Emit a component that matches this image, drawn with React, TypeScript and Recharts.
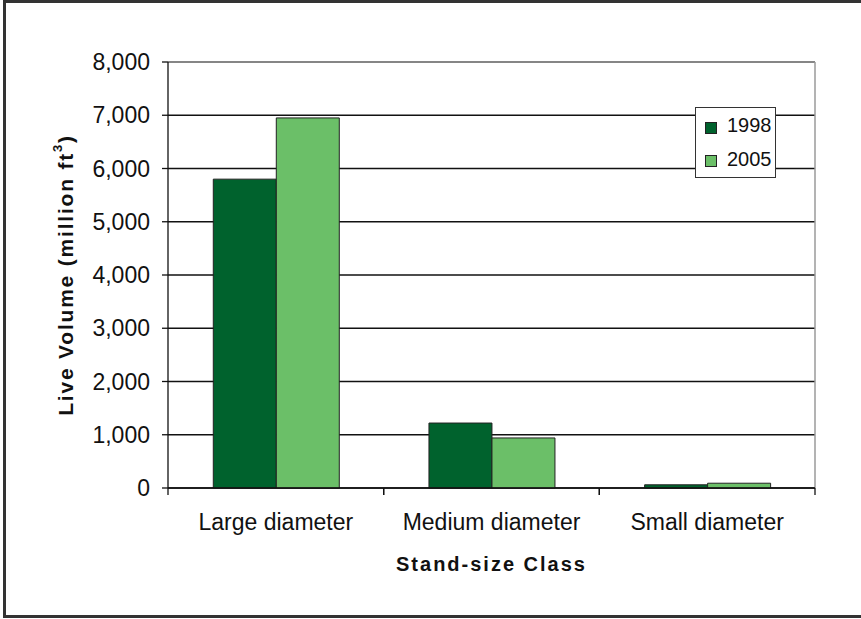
import React from "react";
import {
  BarChart,
  Bar,
  XAxis,
  YAxis,
  CartesianGrid,
  Legend,
  ReferenceLine,
} from "recharts";

const categories = ["Large diameter", "Medium diameter", "Small diameter"];
const volume1998 = [5800, 1220, 60];
const volume2005 = [6950, 940, 90];
const yTicks = [0, 1000, 2000, 3000, 4000, 5000, 6000, 7000, 8000];

const FONT = '"Liberation Sans", Arial, sans-serif';
const DARK = "#00622d";
const LIGHT = "#6bbf68";
const TICK_MARGIN = 26;

const data = categories.map((category, i) => ({
  category,
  v1998: volume1998[i],
  v2005: volume2005[i],
}));

// category label plus the tick marks on both band edges (Excel style)
function CategoryTick(props: any) {
  const { x, y, payload } = props;
  const half = payload.offset || 0;
  const axisY = y - TICK_MARGIN;
  return (
    <g>
      <line x1={x - half} x2={x - half} y1={axisY} y2={axisY + 7} stroke="#111" strokeWidth={1.3} />
      <line x1={x + half} x2={x + half} y1={axisY} y2={axisY + 7} stroke="#111" strokeWidth={1.3} />
      <text
        x={x}
        y={y}
        dy="0.71em"
        textAnchor="middle"
        fontFamily={FONT}
        fontSize={23}
        fill="#111"
      >
        {payload.value}
      </text>
    </g>
  );
}

function YLabel(props: any) {
  const vb = props.viewBox || { x: 88, y: 62, width: 80, height: 426 };
  const cx = vb.x - 23;
  const cy = vb.y + vb.height / 2;
  return (
    <text
      x={cx}
      y={cy}
      transform={`rotate(-90 ${cx} ${cy})`}
      textAnchor="middle"
      dominantBaseline="central"
      fontFamily={FONT}
      fontWeight="bold"
      fontSize={21}
      letterSpacing={1.8}
      fill="#111"
    >
      <tspan>Live Volume (million ft</tspan>
      <tspan dy={-8} fontSize={13}>3</tspan>
      <tspan dy={8}>)</tspan>
    </text>
  );
}

function XLabel(props: any) {
  const vb = props.viewBox || { x: 168, y: 488, width: 647, height: 60 };
  return (
    <text
      x={vb.x + vb.width / 2}
      y={vb.y + 83}
      textAnchor="middle"
      fontFamily={FONT}
      fontWeight="bold"
      fontSize={20}
      letterSpacing={2}
      fill="#111"
    >
      Stand-size Class
    </text>
  );
}

function LegendBox() {
  const items = [
    { label: "1998", color: DARK, top: 7, markTop: 14 },
    { label: "2005", color: LIGHT, top: 41, markTop: 47 },
  ];
  return (
    <div
      style={{
        position: "relative",
        width: 81,
        height: 71,
        boxSizing: "border-box",
        border: "1.5px solid #333",
        background: "#fff",
        fontFamily: FONT,
      }}
    >
      {items.map((it) => (
        <React.Fragment key={it.label}>
          <span
            style={{
              position: "absolute",
              left: 9,
              top: it.markTop,
              width: 12,
              height: 12,
              boxSizing: "border-box",
              border: "1px solid #222",
              background: it.color,
            }}
          />
          <span
            style={{
              position: "absolute",
              left: 31,
              top: it.top,
              fontSize: 20,
              lineHeight: "20px",
              color: "#111",
            }}
          >
            {it.label}
          </span>
        </React.Fragment>
      ))}
    </div>
  );
}

export default function App() {
  return (
    <div
      style={{
        position: "fixed",
        left: 0,
        top: 0,
        width: 861,
        height: 619,
        overflow: "hidden",
        background: "#fff",
      }}
    >
      <div
        style={{
          position: "absolute",
          left: 3,
          top: 0,
          width: 900,
          height: 618,
          boxSizing: "border-box",
          borderTop: "3px solid #333",
          borderLeft: "3px solid #333",
          borderBottom: "3px solid #333",
        }}
      />
      <div style={{ position: "absolute", left: 0, top: 0 }}>
        <BarChart
          width={861}
          height={619}
          data={data}
          margin={{ top: 62, right: 46, bottom: 71, left: 88 }}
          barCategoryGap="21%"
          barGap={0}
        >
          <CartesianGrid vertical={false} stroke="#111" strokeWidth={1.3} />
          <CartesianGrid
            horizontal={false}
            stroke="#9a9a9a"
            strokeWidth={1.5}
            verticalCoordinatesGenerator={({ offset }: any) => [offset.left + offset.width]}
          />
          <XAxis
            dataKey="category"
            height={60}
            axisLine={{ stroke: "#111", strokeWidth: 1.3 }}
            tickLine={false}
            tickSize={0}
            tickMargin={TICK_MARGIN}
            interval={0}
            tick={<CategoryTick />}
            label={<XLabel />}
          />
          <YAxis
            width={80}
            domain={[0, 8000]}
            ticks={yTicks}
            interval={0}
            tickFormatter={(v: number) => v.toLocaleString("en-US")}
            axisLine={{ stroke: "#111", strokeWidth: 1.3 }}
            tickLine={{ stroke: "#111", strokeWidth: 1.3 }}
            tickSize={6}
            tickMargin={12}
            tick={{ fontSize: 23, fill: "#111", fontFamily: FONT }}
            label={<YLabel />}
          />
          <ReferenceLine y={8000} stroke="#9a9a9a" strokeWidth={1.5} />
          <Legend
            layout="vertical"
            align="center"
            verticalAlign="middle"
            content={<LegendBox />}
            wrapperStyle={{ left: 695, top: 107, width: 81, height: 71 }}
          />
          <Bar
            dataKey="v1998"
            name="1998"
            fill={DARK}
            stroke="#222"
            strokeWidth={1}
            isAnimationActive={false}
          />
          <Bar
            dataKey="v2005"
            name="2005"
            fill={LIGHT}
            stroke="#222"
            strokeWidth={1}
            isAnimationActive={false}
          />
        </BarChart>
      </div>
    </div>
  );
}
